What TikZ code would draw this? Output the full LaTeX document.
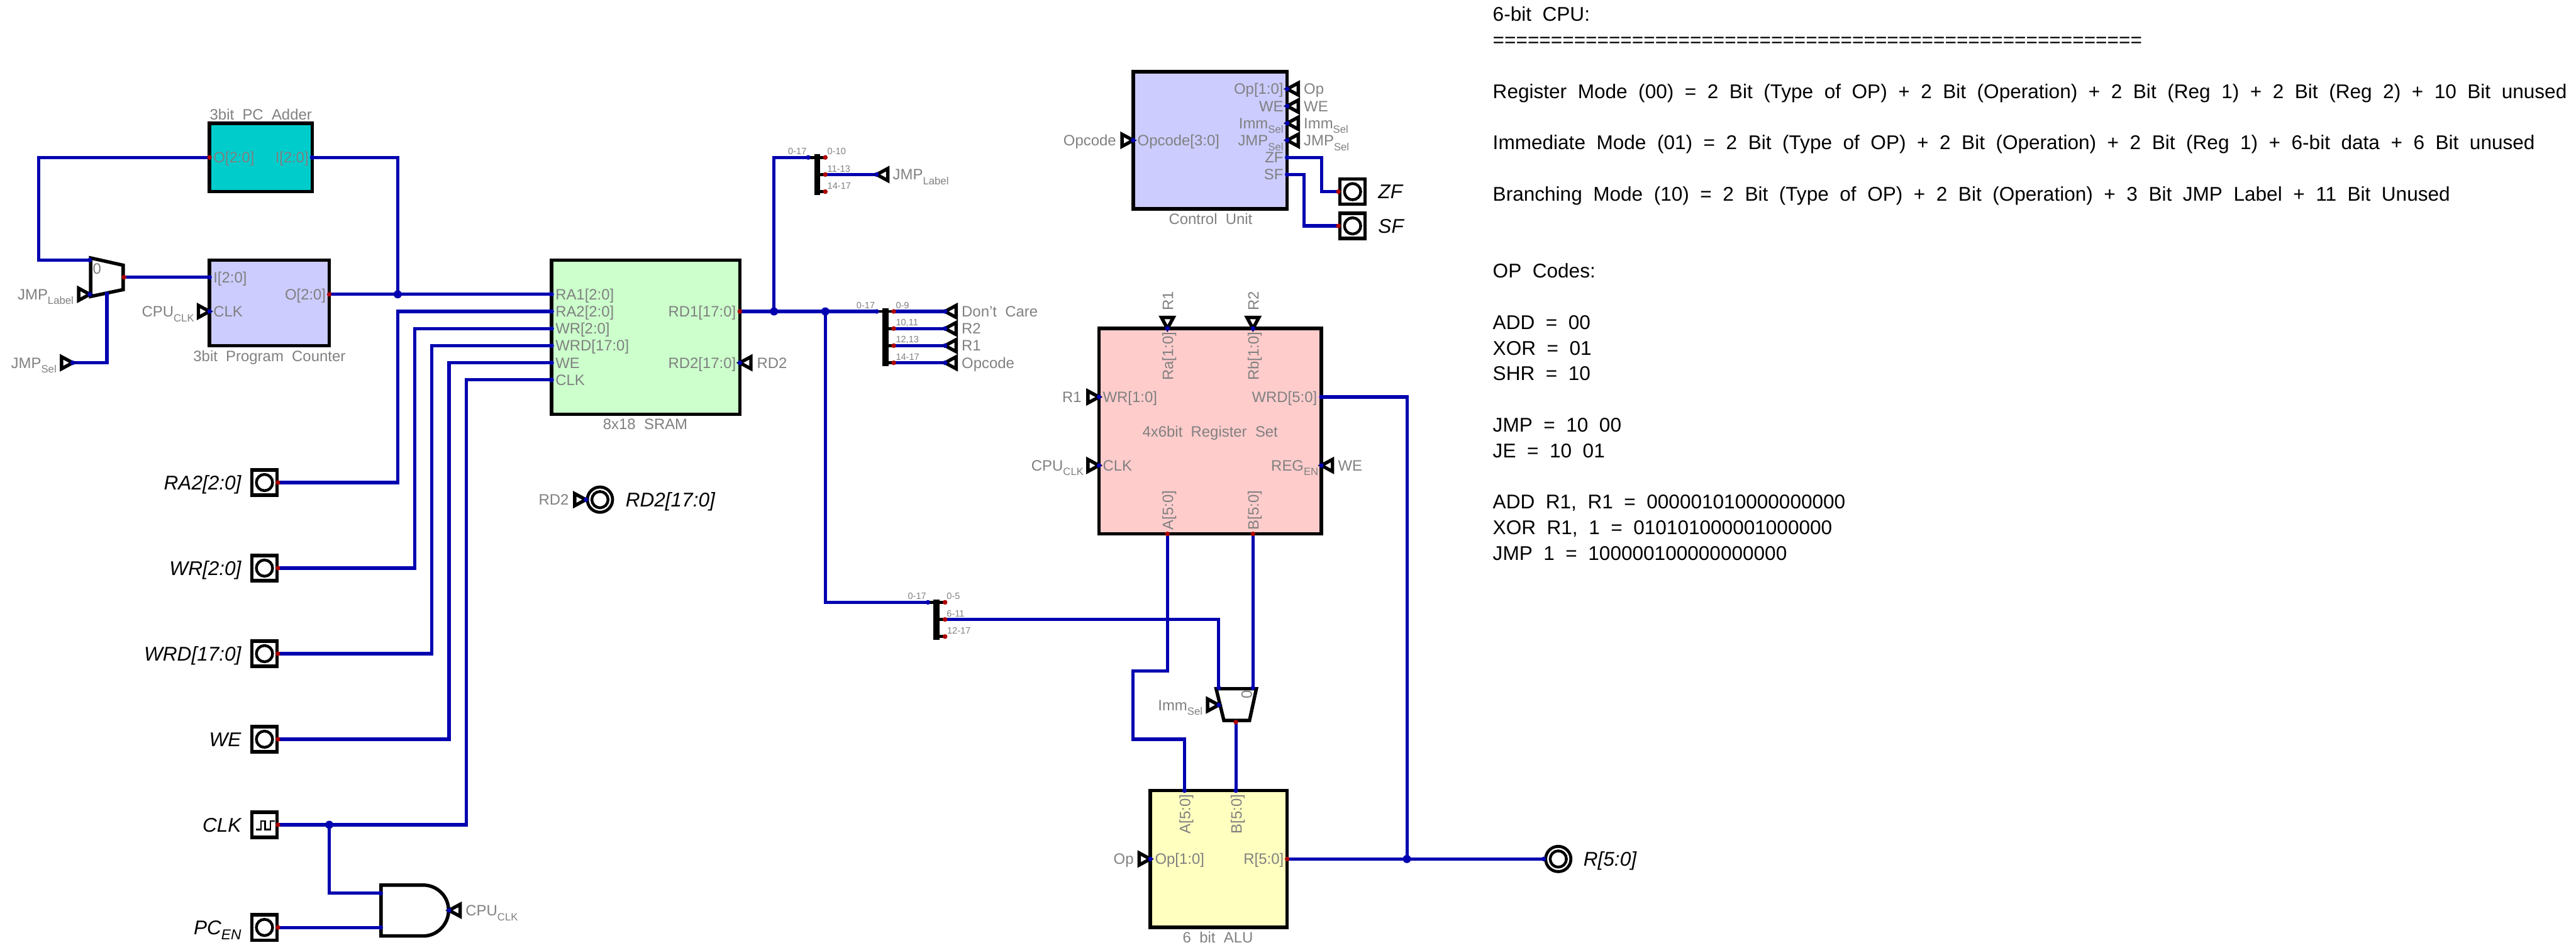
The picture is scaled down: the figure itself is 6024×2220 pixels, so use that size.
\documentclass[tikz,border=0pt]{standalone}
\usepackage{fontspec}
\setmainfont[WordSpace=2.0]{Liberation Sans}
\usetikzlibrary{calc}
\definecolor{wireblue}{HTML}{0000B0}
\definecolor{pinred}{HTML}{B00000}
\definecolor{lblgray}{HTML}{808080}
\definecolor{addercol}{HTML}{00CCCC}
\definecolor{lilac}{HTML}{CCCCFF}
\definecolor{sramcol}{HTML}{CCFFCC}
\definecolor{regcol}{HTML}{FFCCCC}
\definecolor{alucol}{HTML}{FFFFC0}
\newcommand{\lowsub}[2][7]{\raisebox{-3.2pt}{\fontsize{#1}{#1}\selectfont #2}}
\tikzset{
  wire/.style={draw=wireblue,line width=0.075cm},
  blk/.style={draw=black,line width=0.08cm},
  block/.style={blk,rectangle,inner sep=0pt,outer sep=0pt},
  lbl/.style={text=lblgray,inner sep=0pt,outer sep=0pt,text height=0.25cm,text depth=0pt,
    font=\fontsize{10}{12}\selectfont},
  tiny/.style={text=lblgray,inner sep=0pt,outer sep=0pt,text height=0.15cm,text depth=0pt,
    font=\fontsize{6.1}{7}\selectfont},
  big/.style={text=black,inner sep=0pt,outer sep=0pt,text height=0.33cm,text depth=0pt,
    font=\fontsize{13.2}{15}\selectfont\itshape},
  note/.style={text=black,inner sep=0pt,outer sep=0pt,anchor=west,text height=0.33cm,text depth=0pt,
    font=\fontsize{13.2}{15}\selectfont},
  termbox/.style={block,fill=white,minimum size=0.59cm},
  splitbar/.style={rectangle,fill=black,inner sep=0pt,outer sep=0pt,minimum width=0.14cm},
  tripin/.pic={\draw[blk] (0,0) -- (-26,-14) -- (-26,14) -- cycle;},
}
\begin{document}
\begin{tikzpicture}[x=0.01cm,y=-0.01cm]
  \useasboundingbox (0,0) rectangle (6024,2220);

  % pins of the blocks
  \coordinate (adderO) at (490,368);
  \coordinate (adderI) at (730,368);
  \coordinate (muxA) at (210,608);
  \coordinate (muxL) at (210,688);
  \coordinate (muxS) at (250,687);
  \coordinate (muxOut) at (290,648);
  \coordinate (jmpSel) at (170,848);
  \coordinate (pcI) at (490,648);
  \coordinate (pcClk) at (490,728);
  \coordinate (pcO) at (770,688);
  \coordinate (sramRAa) at (1290,688);
  \coordinate (sramRAb) at (1290,728);
  \coordinate (sramWR) at (1290,768);
  \coordinate (sramWRD) at (1290,808);
  \coordinate (sramWE) at (1290,848);
  \coordinate (sramClk) at (1290,888);
  \coordinate (sramRDa) at (1730,728);
  \coordinate (sramRDb) at (1730,848);
  \coordinate (splitAin) at (1890,368);
  \coordinate (splitAa) at (1930,368);
  \coordinate (splitAb) at (1930,408);
  \coordinate (splitAc) at (1930,448);
  \coordinate (jmpLabel) at (2050,408);
  \coordinate (splitBin) at (2050,728);
  \coordinate (splitBa) at (2090,728);
  \coordinate (splitBb) at (2090,768);
  \coordinate (splitBc) at (2090,808);
  \coordinate (splitBd) at (2090,848);
  \coordinate (dontCare) at (2210,728);
  \coordinate (outRtwo) at (2210,768);
  \coordinate (outRone) at (2210,808);
  \coordinate (outOpcode) at (2210,848);
  \coordinate (splitCin) at (2170,1408);
  \coordinate (splitCa) at (2210,1408);
  \coordinate (splitCb) at (2210,1448);
  \coordinate (splitCc) at (2210,1488);
  \coordinate (cuOpcode) at (2650,328);
  \coordinate (cuOp) at (3010,208);
  \coordinate (cuWE) at (3010,248);
  \coordinate (cuImm) at (3010,288);
  \coordinate (cuJmp) at (3010,328);
  \coordinate (cuZF) at (3010,368);
  \coordinate (cuSF) at (3010,408);
  \coordinate (regRa) at (2730,768);
  \coordinate (regRb) at (2930,768);
  \coordinate (regWR) at (2570,928);
  \coordinate (regClk) at (2570,1088);
  \coordinate (regWRD) at (3090,928);
  \coordinate (regEn) at (3090,1088);
  \coordinate (regA) at (2730,1248);
  \coordinate (regB) at (2930,1248);
  \coordinate (immIn) at (2850,1608);
  \coordinate (immB) at (2930,1608);
  \coordinate (immSel) at (2850,1648);
  \coordinate (immOut) at (2890,1688);
  \coordinate (aluA) at (2770,1848);
  \coordinate (aluB) at (2890,1848);
  \coordinate (aluOp) at (2690,2008);
  \coordinate (aluR) at (3010,2008);
  \coordinate (andA) at (890,2088);
  \coordinate (andB) at (890,2168);
  \coordinate (andOut) at (1050,2128);
  \coordinate (jnPC) at (930,688);
  \coordinate (jnRDa) at (1810,728);
  \coordinate (jnRDb) at (1930,728);
  \coordinate (jnClk) at (770,1928);
  \coordinate (jnR) at (3290,2008);

  % blocks
  \node[block,fill=addercol,minimum width=2.4cm,minimum height=1.6cm] (adder) at (610,368) {};
  \node[block,fill=lilac,minimum width=2.8cm,minimum height=2cm] (pc) at (630,708) {};
  \node[block,fill=sramcol,minimum width=4.4cm,minimum height=3.6cm] (sram) at (1510,788) {};
  \node[block,fill=lilac,minimum width=3.6cm,minimum height=3.2cm] (cu) at (2830,328) {};
  \node[block,fill=regcol,minimum width=5.2cm,minimum height=4.8cm] (regset) at (2830,1008) {};
  \node[block,fill=alucol,minimum width=3.2cm,minimum height=3.2cm] (alu) at (2850,2008) {};
  \node[splitbar,minimum height=0.95cm] (splitA) at (1911,408.5) {};
  \node[splitbar,minimum height=1.35cm] (splitB) at (2071,788.5) {};
  \node[splitbar,minimum height=0.94cm] (splitC) at (2190,1448) {};

  % terminals
  \foreach \tname/\ty in {termRAb/1128,termWR/1328,termWRD/1528,termWE/1728,termClk/1928,termEn/2168}
    \node[termbox] (\tname) at (618.5,\ty) {};
  \node[termbox] (termZF) at (3163,448) {};
  \node[termbox] (termSF) at (3163,528) {};
  \foreach \tname in {termRAb,termWR,termWRD,termWE,termEn,termZF,termSF}
    \draw[line width=0.065cm] (\tname) circle (19);
  \draw[line width=0.035cm] (599,1939) -- (610,1939) -- (610,1919) -- (620,1919) -- (620,1939) -- (632,1939) -- (632,1919) -- (643,1919);
  \node[circle,draw,line width=0.07cm,inner sep=0pt,outer sep=0pt,minimum size=0.59cm] (termRDb) at (1403,1168) {};
  \node[circle,draw,line width=0.07cm,inner sep=0pt,outer sep=0pt,minimum size=0.59cm] (termR) at (3644,2008) {};
  \draw[line width=0.065cm] (termRDb) circle (19);
  \draw[line width=0.065cm] (termR) circle (19);
  \coordinate (pinRDb) at (1370,1168);
  \coordinate (pinR) at (3610,2008);
  \coordinate (pinRAb) at (650,1128);
  \coordinate (pinWR) at (650,1328);
  \coordinate (pinWRD) at (650,1528);
  \coordinate (pinWE) at (650,1728);
  \coordinate (pinClk) at (650,1928);
  \coordinate (pinEn) at (650,2168);
  \coordinate (pinZF) at (3130,448);
  \coordinate (pinSF) at (3130,528);

  % wires
  \draw[wire] (adderO) -- ++(-400,0) |- (muxA);
  \draw[wire] (muxOut) -- (pcI);
  \draw[wire] (pcO) -- (sramRAa);
  \draw[wire] (adderI) -| (jnPC);
  \draw[wire] (jmpSel) -| (muxS);
  \draw[wire] (pinRAb) -- ++(280,0) |- (sramRAb);
  \draw[wire] (pinWR) -- ++(320,0) |- (sramWR);
  \draw[wire] (pinWRD) -- ++(360,0) |- (sramWRD);
  \draw[wire] (pinWE) -- ++(400,0) |- (sramWE);
  \draw[wire] (pinClk) -- ++(440,0) |- (sramClk);
  \draw[wire] (jnClk) |- (andA);
  \draw[wire] (pinEn) -- (andB);
  \draw[wire] (sramRDa) -- (splitBin);
  \draw[wire] (jnRDa) |- (splitAin);
  \draw[wire] (splitAb) -- (jmpLabel);
  \draw[wire] (splitBa) -- (dontCare);
  \draw[wire] (splitBb) -- (outRtwo);
  \draw[wire] (splitBc) -- (outRone);
  \draw[wire] (splitBd) -- (outOpcode);
  \draw[wire] (jnRDb) |- (splitCin);
  \draw[wire] (splitCb) -| (immIn);
  \draw[wire] (regB) -- (immB);
  \draw[wire] (regA) -- ++(0,320) -| ++(-80,160) -| (aluA);
  \draw[wire] (immOut) -- (aluB);
  \draw[wire] (aluR) -- (pinR);
  \draw[wire] (regWRD) -| (jnR);
  \draw[wire] (cuZF) -- ++(80,0) |- (pinZF);
  \draw[wire] (cuSF) -- ++(40,0) |- (pinSF);

  % stubs of the splitters
  \foreach \pa/\pb in {splitAin/splitAa,splitBin/splitBa,splitCin/splitCa}
    \draw[line width=0.07cm] (\pa) -- (\pb);
  \draw[line width=0.07cm] (splitA) -- (splitAb);
  \draw[line width=0.07cm] (splitA |- splitAc) -- (splitAc);
  \draw[line width=0.07cm] (splitB |- splitBb) -- (splitBb);
  \draw[line width=0.07cm] (splitB |- splitBc) -- (splitBc);
  \draw[line width=0.07cm] (splitB |- splitBd) -- (splitBd);
  \draw[line width=0.07cm] (splitC) -- (splitCb);
  \draw[line width=0.07cm] (splitC |- splitCc) -- (splitCc);

  % multiplexers and gate
  \draw[blk] (212,603) -- (288,620) -- (288,677) -- (212,693) -- cycle;
  \draw[blk] (2844,1610) -- (2938,1610) -- (2922,1684) -- (2862,1684) -- cycle;
  \draw[blk] (891,2069) -- (990,2069) .. controls (1022,2069) and (1049,2095) .. (1049,2128) .. controls (1049,2161) and (1022,2188) .. (990,2188) -- (891,2188) -- cycle;

  % input triangles
  \foreach \p in {muxL,jmpSel,pcClk,cuOpcode,regWR,regClk,aluOp,immSel,pinRDb}
    \pic at (\p) {tripin};
  \foreach \p in {sramRDb,jmpLabel,dontCare,outRtwo,outRone,outOpcode,cuOp,cuWE,cuImm,cuJmp,regEn,andOut}
    \pic[rotate=180] at (\p) {tripin};
  \foreach \p in {regRa,regRb}
    \pic[rotate=-90] at (\p) {tripin};

  % pin dots
  \foreach \p in {adderI,muxA,muxL,muxS,jmpSel,pcI,pcClk,sramRAa,sramRAb,sramWR,sramWRD,sramWE,sramClk,sramRDb,splitAin,jmpLabel,splitBin,dontCare,outRtwo,outRone,outOpcode,splitCin,cuOpcode,cuOp,cuWE,cuImm,cuJmp,cuZF,cuSF,regRa,regRb,regWR,regClk,regWRD,regEn,immIn,immB,immSel,aluA,aluB,aluOp,andA,andB,andOut,pinRDb,pinR}
    \fill[wireblue] (\p) circle (5.5);
  \foreach \p in {adderO,muxOut,pcO,sramRDa,splitAa,splitAb,splitAc,splitBa,splitBb,splitBc,splitBd,splitCa,splitCb,splitCc,regA,regB,immOut,aluR,pinRAb,pinWR,pinWRD,pinWE,pinClk,pinEn,pinZF,pinSF}
    \fill[pinred] (\p) circle (5.5);
  \foreach \p in {jnPC,jnRDa,jnRDb,jnClk,jnR}
    \fill[wireblue] (\p) circle (9.5);

  % block captions
  \node[lbl] (capAdder) at (610,268) {3bit PC Adder};
  \node[lbl] (capPC) at (630,832) {3bit Program Counter};
  \node[lbl] (capSram) at (1509,991) {8x18 SRAM};
  \node[lbl] (capCU) at (2831,512) {Control Unit};
  \node[lbl] (capReg) at (2830,1009) {4x6bit Register Set};
  \node[lbl] (capAlu) at (2848,2192) {6 bit ALU};

  % labels, left aligned
  \foreach \lname/\lx/\ly/\ltext in {
    lA/499/368/{O[2:0]},lB/217/628/0,lC/499/648/{I[2:0]},lD/499/728/CLK,
    lE/1299/688/{RA1[2:0]},lF/1299/728/{RA2[2:0]},lG/1299/768/{WR[2:0]},lH/1299/808/{WRD[17:0]},lI/1299/848/WE,lJ/1299/888/CLK,
    lK/1770/848/RD2,lL/2088/408/{JMP\lowsub{Label}},
    lM/2249/728/{Don't Care},lN/2249/768/R2,lO/2249/808/R1,lP/2249/848/Opcode,
    lQ/2660/328/{Opcode[3:0]},lR/3049/208/Op,lS/3049/248/WE,lT/3049/288/{Imm\lowsub{Sel}},lU/3049/328/{JMP\lowsub{Sel}},
    lV/2579/928/{WR[1:0]},lW/2579/1088/CLK,lX/3129/1088/WE,lY/2701/2008/{Op[1:0]},lZ/1089/2128/{CPU\lowsub{CLK}}}
    \node[lbl,anchor=west] (\lname) at (\lx,\ly) {\ltext};

  % labels, right aligned
  \foreach \lname/\lx/\ly/\ltext in {
    rA/722/368/{I[2:0]},rB/762/688/{O[2:0]},rC/172/688/{JMP\lowsub{Label}},rD/132/848/{JMP\lowsub{Sel}},rE/454/728/{CPU\lowsub{CLK}},
    rF/1721/728/{RD1[17:0]},rG/1721/848/{RD2[17:0]},rH/1330/1168/RD2,
    rI/2610/328/Opcode,rJ/3001/208/{Op[1:0]},rK/3001/248/WE,rL/3001/288/{Imm\lowsub{Sel}},rM/3001/328/{JMP\lowsub{Sel}},rN/3001/368/ZF,rO/3001/408/SF,
    rP/2529/928/R1,rQ/2534/1088/{CPU\lowsub{CLK}},rR/3080/928/{WRD[5:0]},rS/3083/1088/{REG\lowsub{EN}},
    rT/2812/1648/{Imm\lowsub{Sel}},rU/2651/2008/Op,rV/3002/2008/{R[5:0]}}
    \node[lbl,anchor=east] (\lname) at (\lx,\ly) {\ltext};

  % labels, turned
  \node[lbl,rotate=90,anchor=west] (upA) at (2731,726) {R1};
  \node[lbl,rotate=90,anchor=west] (upB) at (2931,726) {R2};
  \node[lbl,rotate=90,anchor=east] (upC) at (2731,776) {Ra[1:0]};
  \node[lbl,rotate=90,anchor=east] (upD) at (2931,776) {Rb[1:0]};
  \node[lbl,rotate=90,anchor=west] (upE) at (2731,1239) {A[5:0]};
  \node[lbl,rotate=90,anchor=west] (upF) at (2931,1239) {B[5:0]};
  \node[lbl,rotate=90,anchor=east] (upG) at (2771,1857) {A[5:0]};
  \node[lbl,rotate=90,anchor=east] (upH) at (2891,1857) {B[5:0]};
  \node[lbl,rotate=90] (upI) at (2915,1624) {0};

  % bit ranges of the splitters
  \foreach \lname/\lx/\ly/\ltext in {
    tA/1935/353/0-10,tB/1935/394/11-13,tC/1935/434/14-17,
    tD/2095/714/0-9,tE/2095/754/{10,11},tF/2095/794/{12,13},tG/2095/834/14-17,
    tH/2214/1394/0-5,tI/2214/1434/6-11,tJ/2215/1474/12-17}
    \node[tiny,anchor=west] (\lname) at (\lx,\ly) {\ltext};
  \node[tiny,anchor=east] (tK) at (1886,353) {0-17};
  \node[tiny,anchor=east] (tL) at (2046,714) {0-17};
  \node[tiny,anchor=east] (tM) at (2166,1394) {0-17};

  % terminal names
  \foreach \lname/\ly/\ltext in {
    bA/1128/{RA2[2:0]},bB/1328/{WR[2:0]},bC/1528/{WRD[17:0]},bD/1728/WE,bE/1928/CLK,bF/2168/{PC\lowsub[9.5]{EN}}}
    \node[big,anchor=east] (\lname) at (564,\ly) {\ltext};
  \node[big,anchor=west] (bG) at (1463,1168) {RD2[17:0]};
  \node[big,anchor=west] (bH) at (3223,448) {ZF};
  \node[big,anchor=west] (bI) at (3223,528) {SF};
  \node[big,anchor=west] (bJ) at (3703,2008) {R[5:0]};

  % notes
  \foreach \nrow/\ntext in {
    0/{6-bit CPU:},
    1/{========================================================},
    3/{Register Mode (00) = 2 Bit (Type of OP) + 2 Bit (Operation) + 2 Bit (Reg 1) + 2 Bit (Reg 2) + 10 Bit unused},
    5/{Immediate Mode (01) = 2 Bit (Type of OP) + 2 Bit (Operation) + 2 Bit (Reg 1) + 6-bit data + 6 Bit unused},
    7/{Branching Mode (10) = 2 Bit (Type of OP) + 2 Bit (Operation) + 3 Bit JMP Label + 11 Bit Unused},
    10/{OP Codes:},
    12/{ADD = 00},13/{XOR = 01},14/{SHR = 10},
    16/{JMP = 10 00},17/{JE = 10 01},
    19/{ADD R1, R1 = 000001010000000000},
    20/{XOR R1, 1 = 010101000001000000},
    21/{JMP 1 = 100000100000000000}}
    \node[note] (note\nrow) at (3491,33+60*\nrow) {\ntext};
\end{tikzpicture}
\end{document}
